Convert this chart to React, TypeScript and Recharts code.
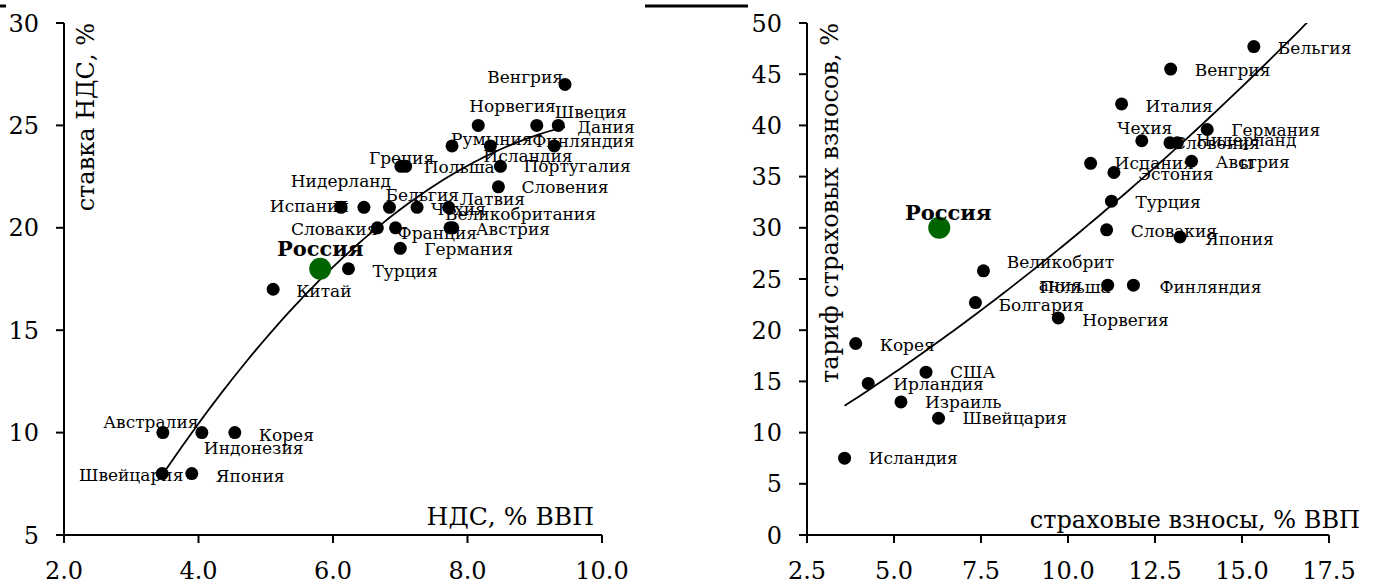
import React from 'react';
import { ComposedChart, Scatter, Line, XAxis, YAxis } from 'recharts';

const FONT = '"DejaVu Serif", "Liberation Serif", serif';

// ---------- Left chart: VAT ----------
const vatCountries = ['Венгрия', 'Норвегия', 'Швеция', 'Дания', 'Румыния', 'Исландия', 'Финляндия', 'Греция', 'Польша', 'Португалия', 'Словения', 'Испания', 'Нидерланды', 'Бельгия', 'Чехия', 'Латвия', 'Великобритания', 'Словакия', 'Франция', 'Австрия', 'Германия', 'Турция', 'Китай', 'Австралия', 'Индонезия', 'Корея', 'Швейцария', 'Япония'];
const vatGdpShare = [9.45, 8.16, 9.03, 9.35, 7.77, 8.34, 9.29, 7.01, 7.08, 8.49, 8.46, 6.12, 6.46, 6.84, 7.25, 7.72, 7.74, 6.66, 6.93, 7.78, 7.0, 6.23, 5.11, 3.47, 4.05, 4.54, 3.46, 3.9];
const vatRate = [27, 25, 25, 25, 24, 24, 24, 23, 23, 23, 22, 21, 21, 21, 21, 21, 20, 20, 20, 20, 19, 18, 17, 10, 10, 10, 8, 8];
const vatRussiaX = 5.81;
const vatRussiaY = 18;
const vatXTicks = [2, 4, 6, 8, 10];
const vatYTicks = [5, 10, 15, 20, 25, 30];

// ---------- Right chart: social insurance ----------
const insCountries = ['Бельгия', 'Венгрия', 'Италия', 'Германия', 'Чехия', 'Словения', 'Нидерланды', 'Испания', 'Эстония', 'Австрия', 'Турция', 'Словакия', 'Япония', 'Великобритания', 'Польша', 'Финляндия', 'Болгария', 'Норвегия', 'Корея', 'США', 'Ирландия', 'Израиль', 'Швейцария', 'Исландия'];
const insGdpShare = [15.34, 12.95, 11.54, 14.0, 12.12, 12.93, 13.14, 10.65, 11.32, 13.55, 11.25, 11.11, 13.22, 7.57, 11.14, 11.88, 7.34, 9.72, 3.9, 5.92, 4.26, 5.2, 6.28, 3.58];
const insRate = [47.7, 45.5, 42.1, 39.6, 38.5, 38.3, 38.3, 36.3, 35.4, 36.5, 32.6, 29.8, 29.1, 25.8, 24.4, 24.4, 22.7, 21.2, 18.7, 15.9, 14.8, 13.0, 11.4, 7.5];
const insRussiaX = 6.3;
const insRussiaY = 30.0;
const insXTicks = [2.5, 5, 7.5, 10, 12.5, 15, 17.5];
const insYTicks = [0, 5, 10, 15, 20, 25, 30, 35, 40, 45, 50];

const russiaName = 'Россия';

// ---------- label placement (style only) ----------
type Anchor = 'start' | 'middle' | 'end';
type Place = [number, number, Anchor];
const vatPlace: Place[] = [
  [-2, -1, 'end'], [-9, -13, 'start'], [18, -7, 'start'], [19, 8, 'start'], [-1, -1, 'start'],
  [-7, 16, 'start'], [-22, 1, 'start'], [-32, -2, 'start'], [18, 7, 'start'], [23, 6, 'start'],
  [23, 6, 'start'], [8, 5, 'end'], [-23, -20, 'middle'], [-4, -6, 'start'], [14, 8, 'start'],
  [11, -2, 'start'], [-5, -8, 'start'], [0, 7, 'end'], [2, 11, 'start'], [23, 7, 'start'],
  [24, 7, 'start'], [24, 8, 'start'], [23, 8, 'start'], [-12, -5, 'middle'], [2, 21, 'start'],
  [24, 8, 'start'], [-31, 7, 'middle'], [24, 8, 'start'],
];
const insPlace: Place[] = [
  [24, 7, 'start'], [24, 7, 'start'], [24, 8, 'start'], [24, 7, 'start'], [3, -7, 'middle'],
  [3, 6, 'start'], [69, 3, 'middle'], [24, 6, 'start'], [24, 7, 'start'], [24, 7, 'start'],
  [24, 7, 'start'], [24, 7, 'start'], [25, 8, 'start'], [77, -3, 'middle'], [3, 8, 'end'],
  [26, 8, 'start'], [23, 8, 'start'], [24, 8, 'start'], [24, 7, 'start'], [24, 6, 'start'],
  [25, 7, 'start'], [24, 6, 'start'], [24, 6, 'start'], [24, 6, 'start'],
];
const vatWrap: Record<string, string[]> = { 'Нидерланды': ['Нидерланд', 'ы'] };
const insWrap: Record<string, string[]> = { 'Нидерланды': ['Нидерланд', 'ы'], 'Великобритания': ['Великобрит', 'ания'] };

// ---------- helpers ----------
function quadFit(xs: number[], ys: number[]) {
  let n = xs.length, s1 = 0, s2 = 0, s3 = 0, s4 = 0, t0 = 0, t1 = 0, t2 = 0;
  for (let i = 0; i < n; i++) {
    const x = xs[i], y = ys[i];
    s1 += x; s2 += x * x; s3 += x * x * x; s4 += x * x * x * x;
    t0 += y; t1 += x * y; t2 += x * x * y;
  }
  const M = [[n, s1, s2, t0], [s1, s2, s3, t1], [s2, s3, s4, t2]];
  for (let c = 0; c < 3; c++) {
    for (let r = c + 1; r < 3; r++) {
      const f = M[r][c] / M[c][c];
      for (let k = c; k < 4; k++) M[r][k] -= f * M[c][k];
    }
  }
  const sol = [0, 0, 0];
  for (let r = 2; r >= 0; r--) {
    let s = M[r][3];
    for (let k = r + 1; k < 3; k++) s -= M[r][k] * sol[k];
    sol[r] = s / M[r][r];
  }
  return sol;
}
function trendPoints(xs: number[], ys: number[], x0: number, x1: number) {
  const [a, b, c] = quadFit(xs, ys);
  const out: { x: number; y: number }[] = [];
  const steps = 80;
  for (let i = 0; i <= steps; i++) {
    const x = x0 + ((x1 - x0) * i) / steps;
    out.push({ x, y: a + b * x + c * x * x });
  }
  return out;
}

const vatRows = vatCountries.map((name, i) => ({ name, x: vatGdpShare[i], y: vatRate[i], idx: i }));
const insRows = insCountries.map((name, i) => ({ name, x: insGdpShare[i], y: insRate[i], idx: i }));
const vatRussiaRows = [{ name: russiaName, x: vatRussiaX, y: vatRussiaY }];
const insRussiaRows = [{ name: russiaName, x: insRussiaX, y: insRussiaY }];
const vatAllX = [...vatGdpShare, vatRussiaX];
const vatAllY = [...vatRate, vatRussiaY];
const insAllX = [...insGdpShare, insRussiaX];
const insAllY = [...insRate, insRussiaY];
const vatTrend = trendPoints(vatAllX, vatAllY, Math.min(...vatAllX), Math.max(...vatAllX));
const insTrend = trendPoints(insAllX, insAllY, Math.min(...insAllX), 17.5);

const LABEL_SIZE = 17;

function makeLabelShape(place: Place[], wrap: Record<string, string[]>) {
  return (p: any) => {
    const { cx, cy, payload } = p;
    if (cx == null || cy == null) return <g />;
    const pl = place[payload.idx];
    const lines = wrap[payload.name] || [payload.name];
    const x = cx + pl[0];
    const y = cy + pl[1];
    return (
      <text x={x} y={y} textAnchor={pl[2]} fontFamily={FONT} fontSize={LABEL_SIZE} fill="#000">
        {lines.map((l, i) => (
          <tspan key={i} x={x} dy={i === 0 ? 0 : 23}>{l}</tspan>
        ))}
      </text>
    );
  };
}
const dotShape = (p: any) => <circle cx={p.cx} cy={p.cy} r={6.5} fill="#000" />;
function makeRussiaShape(dy: number, dx: number) {
  return (p: any) => (
    <g>
      <circle cx={p.cx} cy={p.cy} r={11} fill="#006400" />
      <text x={p.cx + dx} y={p.cy + dy} textAnchor="middle" fontFamily={FONT} fontSize={21} fontWeight="bold" fill="#000">
        {p.payload.name}
      </text>
    </g>
  );
}

const axisLine = { stroke: '#000', strokeWidth: 2 };
const tickStyle = { fill: '#000', fontSize: 24, fontFamily: FONT };

type PanelProps = {
  left: number; width: number; yAxisWidth: number; marginRight: number;
  xDomain: [number, number]; yDomain: [number, number]; xTicks: number[]; yTicks: number[];
  rows: any[]; russia: any[]; trend: any[]; place: Place[]; wrap: Record<string, string[]>;
  russiaDy: number; russiaDx: number;
};

function Panel(props: PanelProps) {
  return (
    <div style={{ position: 'absolute', left: props.left, top: 0 }}>
      <ComposedChart width={props.width} height={585} margin={{ top: 23, right: props.marginRight, bottom: 0, left: 0 }} style={{ overflow: 'visible' }}>
        <XAxis type="number" dataKey="x" domain={props.xDomain} ticks={props.xTicks} interval={0}
          tickFormatter={(v: number) => v.toFixed(1)} tick={tickStyle}
          tickSize={8} tickMargin={19} axisLine={axisLine} tickLine={axisLine} height={50} />
        <YAxis yAxisId="main" type="number" dataKey="y" domain={props.yDomain} ticks={props.yTicks} interval={0}
          tick={tickStyle} tickSize={8} tickMargin={17}
          axisLine={axisLine} tickLine={axisLine} width={props.yAxisWidth} />
        <YAxis yAxisId="trend" type="number" dataKey="y" domain={props.yDomain} allowDataOverflow hide />
        <Scatter yAxisId="main" data={props.rows} shape={makeLabelShape(props.place, props.wrap)} isAnimationActive={false} />
        <Line yAxisId="trend" data={props.trend} dataKey="y" type="linear" stroke="#000" strokeWidth={1.8} dot={false} activeDot={false} isAnimationActive={false} />
        <Scatter yAxisId="main" data={props.rows} shape={dotShape} isAnimationActive={false} />
        <Scatter yAxisId="main" data={props.russia} shape={makeRussiaShape(props.russiaDy, props.russiaDx)} isAnimationActive={false} />
      </ComposedChart>
    </div>
  );
}

export default function App() {
  return (
    <div style={{ position: 'absolute', left: 0, top: 0, width: 1373, height: 585, background: '#fff', overflow: 'hidden' }}>
      <Panel left={0} width={640} yAxisWidth={64} marginRight={38} xDomain={[2, 10]} yDomain={[5, 30]}
        xTicks={vatXTicks} yTicks={vatYTicks} rows={vatRows} russia={vatRussiaRows} trend={vatTrend}
        place={vatPlace} wrap={vatWrap} russiaDy={-13} russiaDx={0} />
      <Panel left={700} width={673} yAxisWidth={107} marginRight={44} xDomain={[2.5, 17.5]} yDomain={[0, 50]}
        xTicks={insXTicks} yTicks={insYTicks} rows={insRows} russia={insRussiaRows} trend={insTrend}
        place={insPlace} wrap={insWrap} russiaDy={-8} russiaDx={9} />
      <svg width={1373} height={585} style={{ position: 'absolute', left: 0, top: 0, pointerEvents: 'none' }}>
        <line x1={0} y1={6} x2={6} y2={6} stroke="#000" strokeWidth={3} />
        <line x1={645} y1={6} x2={748} y2={6} stroke="#000" strokeWidth={3} />
        <text transform="translate(94,23) rotate(-90)" textAnchor="end" fontFamily={FONT} fontSize={24} fill="#000">ставка НДС, %</text>
        <text x={594} y={525} textAnchor="end" fontFamily={FONT} fontSize={25} fill="#000">НДС, % ВВП</text>
        <text transform="translate(838,23) rotate(-90)" textAnchor="end" fontFamily={FONT} fontSize={24} fill="#000">тариф страховых взносов, %</text>
        <text x={1360} y={528} textAnchor="end" fontFamily={FONT} fontSize={24} fill="#000">страховые взносы, % ВВП</text>
      </svg>
    </div>
  );
}
